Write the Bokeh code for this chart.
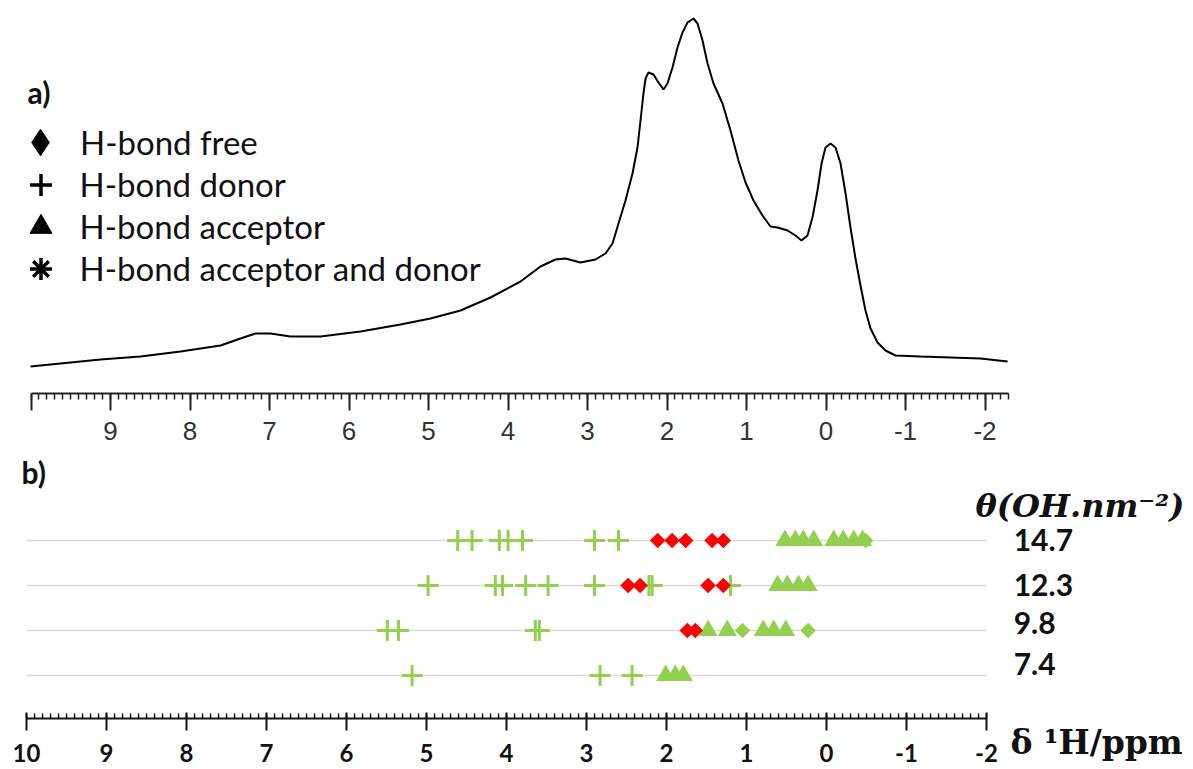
from bokeh.plotting import figure
from bokeh.layouts import column
from bokeh.models import (Range1d, FixedTicker, LinearAxis, Label, Legend, LegendItem)
from bokeh.core.properties import value
from bokeh.embed import file_html
from bokeh.resources import INLINE
import math

# ---------------- panel a: 1H MAS NMR spectrum ----------------
spec_ppm = [10.006, 9.629, 9.126, 8.623, 8.119, 7.616, 7.365, 7.176, 6.987, 6.736, 6.358,
            5.855, 5.352, 4.975, 4.597, 4.220, 3.843, 3.591, 3.403, 3.277, 3.088, 2.899,
            2.774, 2.685, 2.610, 2.522, 2.434, 2.371, 2.333, 2.296, 2.270, 2.233, 2.170,
            2.107, 2.044, 1.994, 1.931, 1.868, 1.805, 1.742, 1.667, 1.616, 1.553, 1.490,
            1.415, 1.302, 1.201, 1.101, 1.012, 0.912, 0.799, 0.698, 0.610, 0.484, 0.384,
            0.308, 0.233, 0.170, 0.107, 0.056, 0.006, -0.057, -0.120, -0.183, -0.246,
            -0.308, -0.371, -0.434, -0.497, -0.560, -0.648, -0.749, -0.874, -1.189,
            -1.566, -1.944, -2.284]
spec_int = [27, 30, 34, 37, 42, 48, 55, 60, 60, 57, 57,
            62, 69, 75, 83, 96, 112, 127, 134, 135, 131, 134,
            140, 150, 170, 193, 220, 246, 273, 300, 315, 321, 319,
            311, 304, 310, 326, 346, 361, 371, 375, 370, 353, 330,
            310, 290, 263, 233, 211, 193, 178, 167, 166, 163, 158,
            153, 158, 176, 203, 230, 246, 250, 246, 230, 200,
            166, 135, 108, 83, 65, 51, 43, 38, 37,
            36, 35, 32]

top_ticks = [10, 9, 8, 7, 6, 5, 4, 3, 2, 1, 0, -1, -2]
top_tick_labels = ["", "9", "8", "7", "6", "5", "4", "3", "2", "1", "0", "-1", "-2"]
top_axis_bounds = (-2.3, 10.0)

legend_labels = ["H-bond free", "H-bond donor", "H-bond acceptor", "H-bond acceptor and donor"]
legend_markers = ["diamond", "cross", "triangle", "asterisk"]

# ---------------- panel b: calculated shifts per OH coverage ----------------
rows = ["7.4", "9.8", "12.3", "14.7"]          # theta (OH.nm^-2), bottom to top

free_red_ppm = [2.11, 1.93, 1.76, 1.43, 1.29,
                2.48, 2.33, 1.48, 1.29,
                1.74, 1.64]
free_red_row = ["14.7"] * 5 + ["12.3"] * 4 + ["9.8"] * 2

free_green_ppm = [-0.49, 1.05, 0.23]
free_green_row = ["14.7", "9.8", "9.8"]

donor_ppm = [4.61, 4.43, 4.09, 3.98, 3.80, 2.90, 2.60,
             4.98, 4.14, 4.05, 3.76, 3.48, 2.90, 2.22, 2.18, 1.20,
             5.49, 5.35, 3.64, 3.59,
             5.18, 2.83, 2.43]
donor_row = ["14.7"] * 7 + ["12.3"] * 9 + ["9.8"] * 4 + ["7.4"] * 3

acceptor_ppm = [0.52, 0.39, 0.29, 0.16, -0.09, -0.21, -0.34, -0.45,
                0.61, 0.49, 0.35, 0.23,
                1.48, 1.24, 0.79, 0.66, 0.51,
                2.01, 1.89, 1.79]
acceptor_row = ["14.7"] * 8 + ["12.3"] * 4 + ["9.8"] * 5 + ["7.4"] * 3

bottom_ticks = [10, 9, 8, 7, 6, 5, 4, 3, 2, 1, 0, -1, -2]
bottom_tick_labels = ["10", "9", "8", "7", "6", "5", "4", "3", "2", "1", "0", "-1", "-2"]
bottom_axis_bounds = (-2.0, 10.0)
row_label_ppm = -2.34

GREEN = "#92D050"
RED = "#FF0000"
GRAY = "#D9D9D9"
INK = "#111111"

W = 1193
H_TOTAL = 769
H1 = 455
H2 = H_TOTAL - H1

# ---------------- figure a (frame = whole canvas, axis pinned) ----------------
# page x = 110 + (9 - ppm) * 79.5 ; page y = 393 - intensity
px_per_ppm1 = 79.5
x0_1 = 9 + 110 / px_per_ppm1
x1_1 = 9 - (W - 110) / px_per_ppm1
p1 = figure(width=W, height=H1, output_backend="svg", toolbar_location=None,
            x_range=Range1d(x0_1, x1_1), y_range=Range1d(393 - H1, 393),
            x_axis_location=None, y_axis_location=None,
            min_border=0, min_border_left=0, min_border_right=0,
            min_border_top=0, min_border_bottom=0)
p1.outline_line_color = None
p1.grid.visible = False

p1.line(spec_ppm, spec_int, line_color="black", line_width=2)

ax1 = LinearAxis(fixed_location=0, bounds=top_axis_bounds,
                 ticker=FixedTicker(ticks=top_ticks,
                                    minor_ticks=[t / 10 for t in range(-23, 101)]),
                 major_label_overrides={t: l for t, l in zip(top_ticks, top_tick_labels)},
                 axis_line_width=2, axis_line_color="#222222",
                 major_tick_line_width=2, major_tick_line_color="#222222",
                 minor_tick_line_width=1.5, minor_tick_line_color="#222222",
                 major_tick_in=0, major_tick_out=17, minor_tick_in=0, minor_tick_out=6,
                 major_label_standoff=11, major_label_text_font="Liberation Sans",
                 major_label_text_font_size="26px", major_label_text_color="#333333")
p1.add_layout(ax1, "below")

for i, (lab, m) in enumerate(zip(legend_labels, legend_markers)):
    r = p1.scatter(x=spec_ppm[:1], y=spec_int[:1], marker=m, fill_color="black",
                   line_color="black", line_width=3.5 if m in ("cross", "asterisk") else 1,
                   visible=False)
    gsz = 66 if m == "diamond" else 55
    cy = 142 + 42 * i
    leg = Legend(items=[LegendItem(label=lab, renderers=[r])],
                 location=(40 - gsz / 2, H1 - (cy + gsz / 2)),
                 glyph_width=gsz, glyph_height=gsz, label_standoff=12 - (gsz - 55) // 2,
                 padding=0, margin=0, border_line_color=None, background_fill_alpha=0,
                 label_text_font="Lato", label_text_font_size="33px",
                 label_text_color=INK)
    p1.add_layout(leg)

p1.add_layout(Label(x=27, y=H1 - 91, x_units="screen", y_units="screen", text="a)",
                    text_font="Lato", text_font_style="bold", text_font_size="30px",
                    text_baseline="middle", text_color=INK))

# ---------------- figure b ----------------
# page x = 26 + (10 - ppm) * 80 ; page y = 675 - 45 * row_index
px_per_ppm2 = 80.0
x0_2 = 10 + 26 / px_per_ppm2
x1_2 = 10 - (W - 26) / px_per_ppm2
row_step = 45.0
y_top = (675 - H1) / row_step
y_bot = -(H_TOTAL - 675) / row_step
axis_y = -(718 - 675) / row_step
p2 = figure(width=W, height=H2, output_backend="svg", toolbar_location=None,
            x_range=Range1d(x0_2, x1_2), y_range=Range1d(y_bot, y_top),
            x_axis_location=None, y_axis_location=None,
            min_border=0, min_border_left=0, min_border_right=0,
            min_border_top=0, min_border_bottom=0)
p2.outline_line_color = None
p2.grid.visible = False

ridx = {r: i for i, r in enumerate(rows)}
p2.segment(x0=[bottom_axis_bounds[1]] * len(rows), x1=[bottom_axis_bounds[0]] * len(rows),
           y0=list(range(len(rows))), y1=list(range(len(rows))),
           line_color=GRAY, line_width=1.5)

p2.scatter(x=donor_ppm, y=[ridx[r] for r in donor_row], marker="cross", size=21,
           line_color=GREEN, line_width=3)
p2.scatter(x=acceptor_ppm, y=[ridx[r] for r in acceptor_row], marker="triangle", size=19,
           fill_color=GREEN, line_color=None)
p2.scatter(x=free_green_ppm, y=[ridx[r] for r in free_green_row], marker="square", size=11,
           angle=math.pi / 4, fill_color=GREEN, line_color=None)
p2.scatter(x=free_red_ppm, y=[ridx[r] for r in free_red_row], marker="square", size=11,
           angle=math.pi / 4, fill_color=RED, line_color=None)

p2.text(x=[row_label_ppm] * len(rows), y=list(range(len(rows))), text=rows,
        y_offset=[-12, -8, -1, -1],
        text_font=value("Lato"), text_font_style="bold", text_font_size="30px",
        text_baseline="middle", text_align="left", text_color=INK)

ax2 = LinearAxis(fixed_location=axis_y, bounds=bottom_axis_bounds,
                 ticker=FixedTicker(ticks=bottom_ticks,
                                    minor_ticks=[t / 10 for t in range(-20, 101)]),
                 major_label_overrides={t: l for t, l in zip(bottom_ticks, bottom_tick_labels)},
                 axis_line_width=2, axis_line_color=INK,
                 major_tick_line_width=2, major_tick_line_color=INK,
                 minor_tick_line_width=1.5, minor_tick_line_color=INK,
                 major_tick_in=6, major_tick_out=12, minor_tick_in=5, minor_tick_out=0,
                 major_label_standoff=13, major_label_text_font="Lato",
                 major_label_text_font_style="bold", major_label_text_font_size="24px",
                 major_label_text_color=INK)
p2.add_layout(ax2, "below")

p2.add_layout(Label(x=21, y=H_TOTAL - 471, x_units="screen", y_units="screen", text="b)",
                    text_font="Lato", text_font_style="bold", text_font_size="30px",
                    text_baseline="middle", text_color=INK))
p2.add_layout(Label(x=975, y=H_TOTAL - 505, x_units="screen", y_units="screen",
                    text="θ(OH.nm⁻²)", text_font="DejaVu Serif", text_font_style="bold italic",
                    text_font_size="32px", text_baseline="middle", text_color=INK))
p2.add_layout(Label(x=1010, y=H_TOTAL - 742, x_units="screen", y_units="screen",
                    text="δ ¹H/ppm", text_font="DejaVu Serif", text_font_style="bold",
                    text_font_size="33px", text_baseline="middle", text_color=INK))

layout = column(p1, p2, spacing=0)
open("out.html", "w").write(file_html(layout, INLINE))
